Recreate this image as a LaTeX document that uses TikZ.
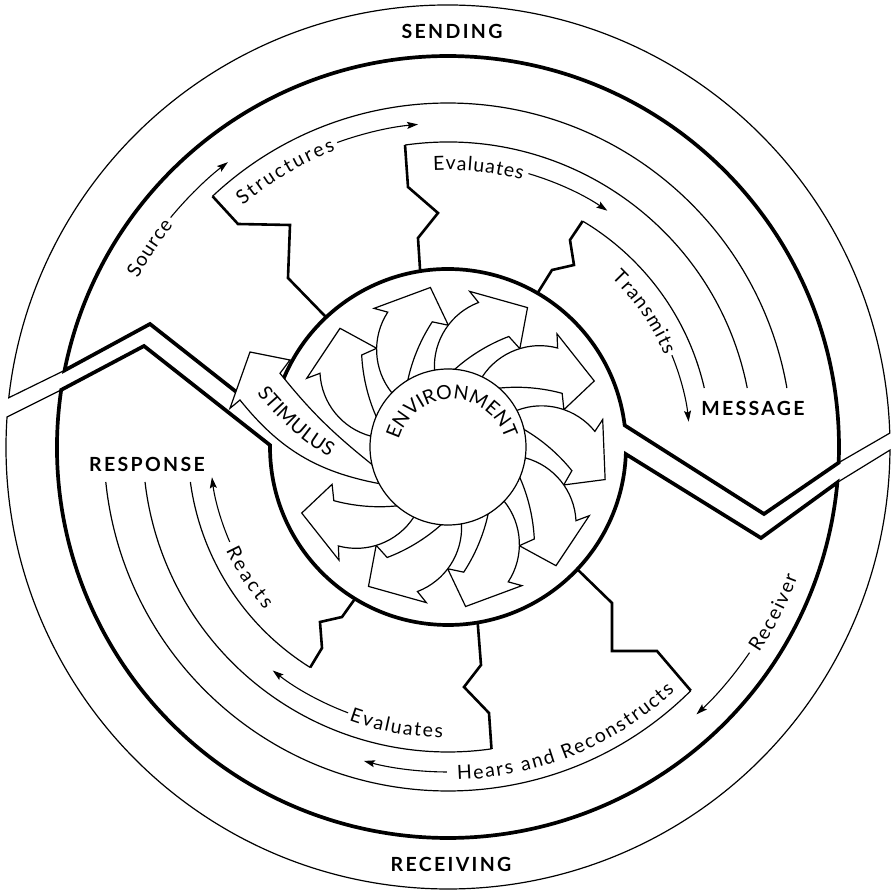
\documentclass[tikz,border=0pt]{standalone}
\usepackage{fontspec}
\setmainfont{Lato}
\usetikzlibrary{decorations.text,arrows.meta}
\newfontfamily\lblfont{Lato}
\newfontfamily\hdfont{Lato}[LetterSpace=12]
\newcommand\lblfmt{\lblfont\fontsize{19.5}{21}\selectfont}
\newcommand\hdfmt{\hdfont\bfseries\fontsize{19.5}{21}\selectfont}
% text spread along an arc: #1 start angle, #2 end angle, #3 baseline radius, #4 text
\newcommand\arctext[4]{\path[decorate,decoration={text along path,text align={fit to path},text={|\lblfmt|#4}}] (#1:#3) arc[start angle=#1,end angle=#2,radius=#3];}
\tikzset{
  thinline/.style={line width=1.2pt},
  zigline/.style={line width=2.6pt,line join=miter},
  thickline/.style={line width=3.7pt,line join=miter},
  flow/.style={line width=1.1pt,-{Stealth[length=11pt,width=7pt,inset=2pt]}},
  blade/.style={draw,fill=white,line width=1.2pt,line join=miter},
  head/.style={font=\hdfmt,inner sep=0pt},
}
\begin{document}
\begin{tikzpicture}[x=1pt,y=1pt]
\useasboundingbox (-448,-444) rectangle (444,447);

% ---------- sending half ----------
\draw[thinline] (168.7:391) -- (173.6:442) arc[start angle=173.6,end angle=1.8,radius=442] -- (-2.3:391);
\draw[thickline] (-2.3:391) arc[start angle=-2.3,end angle=168.7,radius=391]
  -- (-298,123) -- (171.3:178) arc[start angle=171.3,end angle=7,radius=178]
  -- (316,-67) -- cycle;
\draw[thinline] (133.2:344) arc[start angle=133.2,end angle=9.87,radius=344];
\draw[thinline] (98.1:305) arc[start angle=98.1,end angle=11.15,radius=305];
\draw[thinline] (59.2:263) arc[start angle=59.2,end angle=12.96,radius=263];
\draw[zigline] (133.2:344) -- (-210,223) -- (-158,222) -- (-160,169) -- (133.2:178);
\draw[zigline] (98.1:305) -- (-40,260) -- (-10,234) -- (-30,209) -- (99:178);
\draw[zigline] (59.2:263) -- (122,207) -- (126,182) -- (104,177) -- (59.8:178);

% ---------- receiving half ----------
\draw[thinline] (171.6:391) -- (176.1:442) arc[start angle=176.1,end angle=359.6,radius=442] -- (-5.2:391);
\draw[thickline] (171.6:391) arc[start angle=171.6,end angle=354.8,radius=391]
  -- (313,-91) -- (-2.3:178) arc[start angle=-2.3,end angle=-180.6,radius=178]
  -- (-304,101) -- cycle;
\draw[thinline] (-45.1:344) arc[start angle=-45.1,end angle=-174.16,radius=344];
\draw[thinline] (-81.8:305) arc[start angle=-81.8,end angle=-173.41,radius=305];
\draw[thinline] (-122:260) arc[start angle=-122,end angle=-172.26,radius=260];
\draw[zigline] (-43.4:178) -- (164,-156) -- (164,-204) -- (209,-204) -- (-45.1:344);
\draw[zigline] (-80.4:178) -- (33,-218) -- (16,-240) -- (41,-266) -- (-81.8:305);
\draw[zigline] (-121.5:178) -- (-106,-170) -- (-128,-175) -- (-126,-201) -- (-122:260);

% ---------- flow arrows ----------
\draw[flow] (140.4:360) arc[start angle=140.4,end angle=127.7,radius=360];
\draw[flow] (110:324) arc[start angle=110,end angle=95.3,radius=324];
\draw[flow] (73.6:285) arc[start angle=73.6,end angle=56,radius=285];
\draw[flow] (22.3:242) arc[start angle=22.3,end angle=6,radius=242];
\draw[flow] (-34.3:365) arc[start angle=-34.3,end angle=-47.1,radius=365];
\draw[flow] (-90.2:325) arc[start angle=-90.2,end angle=-105,radius=325];
\draw[flow] (-110.6:284) arc[start angle=-110.6,end angle=-128.1,radius=284];
\draw[flow] (-156.5:238) arc[start angle=-156.5,end angle=-172.7,radius=238];

\arctext{151.5}{141.1}{353}{Source}
\arctext{130.3}{110.8}{317}{Structures}
\arctext{93}{74.5}{277}{Evaluates}
\arctext{46}{22.9}{235}{Transmits}
\arctext{-33.5}{-20.4}{373}{Receiver}
\arctext{-88.4}{-47.1}{333}{Hears and Reconstructs}
\arctext{-109.9}{-91}{291}{Evaluates}
\arctext{-155}{-138.4}{245}{Reacts}

\node[head] (sending) at (4,416) {SENDING};
\node[head] (message) at (305,39) {MESSAGE};
\node[head] (response) at (-301,-17) {RESPONSE};
\node[head] (receiving) at (3,-417) {RECEIVING};

% ---------- stimulus arrow ----------
\path[blade] (-76,-17.5) .. controls (-115.1,13.9) and (-136.7,34.7) .. (-168,73.7)
  -- (-158,87) -- (-198,95) -- (-218,38.7) -- (-208,47)
  .. controls (-168.1,-2.7) and (-130.7,-24.7) .. (-68.9,-36.6) -- cycle;
\path[decorate,decoration={text along path,text align={left,left indent=3pt},raise=-6.5pt,text={|\lblfmt|STIMULUS}}]
  (-188,60.3) .. controls (-152.4,16) and (-123.8,-3.8) .. (-71.5,-26);

% ---------- pinwheel ----------
\foreach \k in {0,...,8} {
  \path[blade,rotate=-36*\k] (-77.24,10.86) .. controls (-106.0,18.6) and (-126.5,43.9) .. (-128,73.7)
    -- (-141.3,68.7) -- (-108,118.7) -- (-71.3,98.7) -- (-86.3,92)
    .. controls (-85.3,71) and (-80.3,49.7) .. (-71.8,30.48) -- cycle;
}
\draw[thinline,fill=white] (0,0) circle[radius=78];
\path[shift={(4,-8)},decorate,decoration={text along path,text align={fit to path},text={|\lblfmt|ENVIRONMENT}}]
  (164.2:55.5) arc[start angle=164.2,end angle=17.2,radius=55.5];
\end{tikzpicture}
\end{document}
